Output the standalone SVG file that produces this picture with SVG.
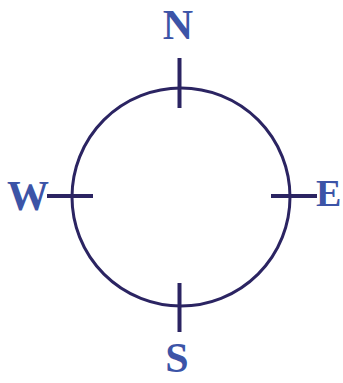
<svg xmlns="http://www.w3.org/2000/svg" width="343" height="383" viewBox="0 0 343 383">
<style>
.ln{stroke:#2b2462;fill:none}
.lb{font-family:"Liberation Serif","Times New Roman",serif;font-weight:bold;font-size:42px;fill:#3c54a7;text-anchor:middle}
</style>
<rect width="343" height="383" fill="#fff"/>
<g id="connectors">
<circle class="ln" cx="181" cy="197" r="109" stroke-width="3"/>
<line class="ln" x1="179.5" y1="58" x2="179.5" y2="108" stroke-width="4"/>
<line class="ln" x1="179.5" y1="283" x2="179.5" y2="332" stroke-width="4"/>
<line class="ln" x1="47" y1="196" x2="93" y2="196" stroke-width="4"/>
<line class="ln" x1="271" y1="196" x2="317" y2="196" stroke-width="4"/>
</g>
<g id="N"><text class="lb" x="178" y="39">N</text></g>
<g id="W"><text class="lb" x="28" y="210">W</text></g>
<g id="E"><text class="lb" x="316" y="206" style="text-anchor:start;font-size:38px">E</text></g>
<g id="S"><text class="lb" x="177" y="372">S</text></g>
</svg>
